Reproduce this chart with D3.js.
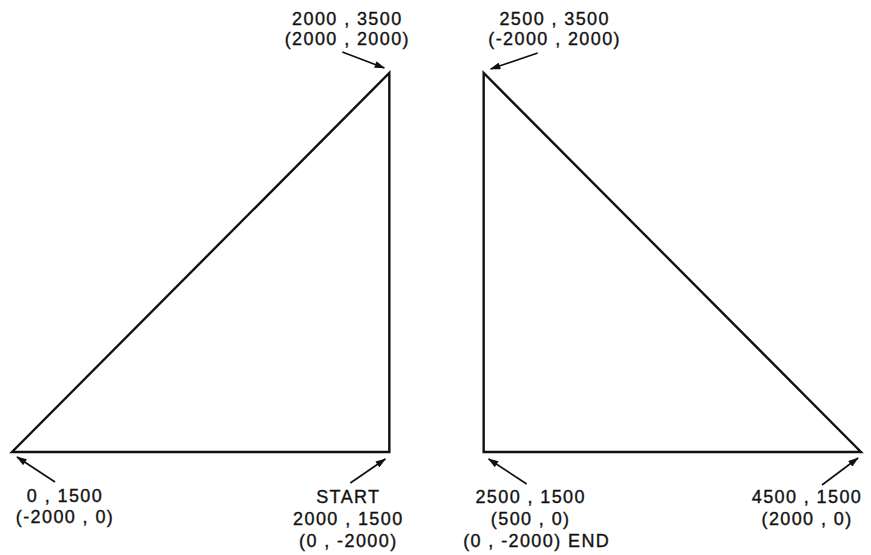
<!DOCTYPE html>
<html lang="en">
<head>
    <meta charset="UTF-8">
    <title>Triangle moves</title>
    <script src="https://d3js.org/d3.v7.min.js"></script>
    <style>
        html, body { margin: 0; padding: 0; background: #fff; }
        svg { display: block; }
    </style>
</head>
<body>
    <svg width="871" height="555"></svg>

    <script>
        // triangle vertices (x, y in drawing units)
        const leftTriangle = [[0, 1500], [2000, 1500], [2000, 3500]];
        const rightTriangle = [[2500, 1500], [4500, 1500], [2500, 3500]];

        // vertex annotations
        const labelPoints = [[2000, 3500], [2500, 3500], [0, 1500], [2000, 1500], [2500, 1500], [4500, 1500]];
        const labelTexts = [
            ['2000 , 3500', '(2000 , 2000)'],
            ['2500 , 3500', '(-2000 , 2000)'],
            ['0 , 1500', '(-2000 , 0)'],
            ['START', '2000 , 1500', '(0 , -2000)'],
            ['2500 , 1500', '(500 , 0)', '(0 , -2000) END'],
            ['4500 , 1500', '(2000 , 0)']
        ];

        // layout for each annotation: text offset, arrow tail and tip (pixels from vertex)
        const layout = [
            { dx: -42, dy: -48, lh: 20, tail: [-47, -21], tip: [-5, -5] },
            { dx: 71, dy: -48, lh: 20, tail: [54, -20], tip: [7, -4] },
            { dx: 53, dy: 50, lh: 21, tail: [43, 30], tip: [5, 5] },
            { dx: -41, dy: 51, lh: 22, tail: [-39, 31], tip: [-4, 7] },
            { dx: 47, dy: 51, lh: 22, tail: [43, 32], tip: [5, 7], lineDx: [0, 0, 6] },
            { dx: -54, dy: 51, lh: 22, tail: [-39, 33], tip: [-3, 6] }
        ];

        const svg = d3.select('svg');

        const x = d3.scaleLinear().domain([0, 4500]).range([12, 861]);
        const y = d3.scaleLinear().domain([1500, 3500]).range([452, 73]);

        svg.append('defs').append('marker')
            .attr('id', 'head')
            .attr('viewBox', '0 0 12 8')
            .attr('refX', 11)
            .attr('refY', 4)
            .attr('markerWidth', 11)
            .attr('markerHeight', 7)
            .attr('markerUnits', 'userSpaceOnUse')
            .attr('orient', 'auto')
            .append('path')
            .attr('d', 'M0,0 L12,4 L0,8 Z')
            .attr('fill', '#111');

        const line = d3.line().x(d => x(d[0])).y(d => y(d[1])).curve(d3.curveLinearClosed);

        svg.selectAll('path.tri')
            .data([leftTriangle, rightTriangle])
            .join('path')
            .attr('class', 'tri')
            .attr('d', line)
            .attr('fill', 'none')
            .attr('stroke', '#111')
            .attr('stroke-width', 2.4)
            .attr('stroke-linejoin', 'miter');

        const ann = svg.selectAll('g.ann')
            .data(labelPoints.map((p, i) => ({ p, lines: labelTexts[i], l: layout[i] })))
            .join('g')
            .attr('class', 'ann')
            .attr('transform', d => `translate(${x(d.p[0])},${y(d.p[1])})`);

        ann.append('line')
            .attr('x1', d => d.l.tail[0])
            .attr('y1', d => d.l.tail[1])
            .attr('x2', d => d.l.tip[0])
            .attr('y2', d => d.l.tip[1])
            .attr('stroke', '#111')
            .attr('stroke-width', 1.7)
            .attr('marker-end', 'url(#head)');

        ann.append('text')
            .attr('font-family', '"Liberation Sans", Arial, sans-serif')
            .attr('font-size', 18)
            .attr('letter-spacing', 1.4)
            .attr('fill', '#111')
            .attr('stroke', '#111')
            .attr('stroke-width', 0.35)
            .attr('text-anchor', 'middle')
            .selectAll('tspan')
            .data(d => d.lines.map((t, i) => ({ t, i, l: d.l })))
            .join('tspan')
            .attr('x', d => d.l.dx + (d.l.lineDx ? d.l.lineDx[d.i] : 0))
            .attr('y', d => d.l.dy + d.i * d.l.lh)
            .text(d => d.t);
    </script>
</body>
</html>
